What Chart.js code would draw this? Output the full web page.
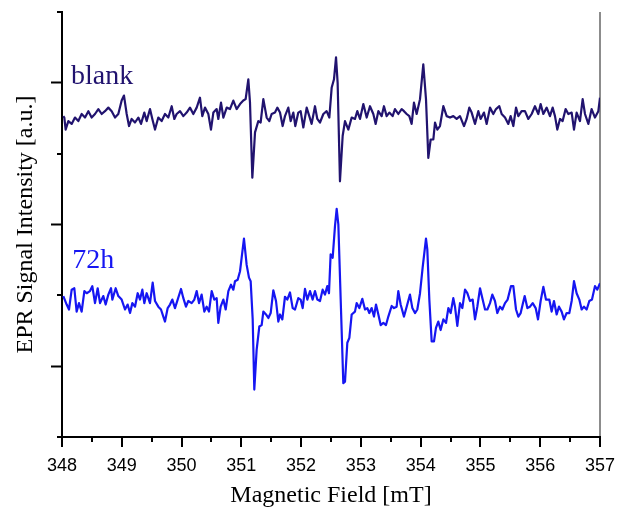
<!DOCTYPE html>
<html>
<head>
<meta charset="utf-8">
<script src="https://cdn.jsdelivr.net/npm/chart.js@4.4.1/dist/chart.umd.min.js"></script>
<style>
body { margin: 0; background: #fff; }
</style>
</head>
<body>
<canvas id="myChart" width="617" height="510"></canvas>
<script>

// field in mT, intensity in arbitrary units
const blankField = [
    348.022,348.039,348.061,348.106,348.162,348.217,348.273,348.329,348.385,348.441,348.496,
    348.552,348.608,348.664,348.719,348.775,348.831,348.887,348.942,348.998,349.037,
    349.082,349.121,349.165,349.221,349.277,349.322,349.377,349.416,349.472,349.511,
    349.556,349.611,349.667,349.723,349.779,349.835,349.879,349.918,349.974,350.030,
    350.085,350.141,350.197,350.253,350.308,350.347,350.392,350.448,350.492,350.532,
    350.587,350.615,350.660,350.699,350.755,350.810,350.866,350.922,350.978,351.033,
    351.072,351.117,351.145,351.184,
    351.229,351.284,351.323,351.368,351.424,351.468,351.507,351.563,351.602,351.647,
    351.691,351.730,351.786,351.825,351.870,351.903,351.953,351.992,352.037,352.093,
    352.137,352.176,352.232,352.271,352.316,352.372,352.427,352.472,352.511,352.550,
    352.584,352.611,352.650,352.695,352.734,352.790,352.846,352.901,352.940,352.985,
    353.041,353.097,353.152,353.208,353.247,353.292,353.347,353.386,353.431,353.476,
    353.531,353.570,353.626,353.682,353.721,353.766,353.810,353.849,353.888,353.933,
    353.989,354.044,354.089,354.128,
    354.167,354.212,354.240,354.279,354.323,354.379,354.435,354.491,354.546,354.602,
    354.658,354.725,354.769,354.814,354.853,354.909,354.964,355.003,355.059,355.104,
    355.160,355.215,355.260,355.316,355.355,355.411,355.466,355.505,355.550,355.595,
    355.634,355.689,355.745,355.801,355.857,355.912,355.968,356.007,356.052,356.108,
    356.163,356.208,356.247,356.286,356.331,356.375,356.425,356.470,356.526,356.565,
    356.609,356.665,356.710,356.749,356.805,356.860,356.916,356.972,357.000
];
const blankIntensity = [
    4.53,4.51,4.34,4.46,4.42,4.51,4.46,4.56,4.51,4.60,4.51,
    4.56,4.63,4.56,4.60,4.65,4.60,4.51,4.56,4.75,4.82,
    4.56,4.39,4.49,4.44,4.51,4.42,4.58,4.46,4.63,4.49,
    4.34,4.51,4.46,4.56,4.51,4.67,4.49,4.56,4.60,4.53,
    4.58,4.65,4.56,4.65,4.79,4.53,4.65,4.56,4.34,4.58,
    4.63,4.49,4.72,4.51,4.65,4.63,4.75,4.63,4.70,4.75,
    4.77,5.05,4.72,3.66,
    4.30,4.46,4.44,4.77,4.51,4.46,4.56,4.58,4.65,4.58,
    4.39,4.53,4.65,4.46,4.58,4.39,4.58,4.60,4.37,4.65,
    4.53,4.42,4.67,4.49,4.44,4.56,4.60,4.51,4.93,5.05,
    5.36,5.00,3.61,4.25,4.46,4.34,4.51,4.49,4.60,4.49,
    4.70,4.51,4.67,4.56,4.42,4.60,4.53,4.67,4.53,4.58,
    4.53,4.63,4.56,4.63,4.60,4.56,4.53,4.42,4.72,4.56,
    4.77,5.26,4.77,3.94,
    4.20,4.20,4.44,4.34,4.39,4.67,4.53,4.51,4.53,4.49,
    4.53,4.39,4.49,4.65,4.58,4.42,4.60,4.49,4.58,4.42,
    4.65,4.56,4.63,4.67,4.56,4.51,4.42,4.53,4.39,4.65,
    4.53,4.60,4.60,4.49,4.56,4.67,4.56,4.70,4.56,4.65,
    4.53,4.65,4.53,4.34,4.49,4.46,4.63,4.56,4.58,4.34,
    4.58,4.46,4.77,4.56,4.42,4.63,4.51,4.60,4.79
];

const h72Field = [
    348.022,348.078,348.117,348.162,348.206,348.245,348.284,348.329,348.374,348.413,
    348.468,348.507,348.552,348.597,348.636,348.691,348.730,348.775,348.820,348.842,
    348.898,348.942,348.998,349.054,349.098,349.138,349.177,349.221,349.266,349.305,
    349.344,349.377,349.416,349.472,349.517,349.556,349.611,349.656,349.695,349.723,
    349.768,349.807,349.846,349.890,349.935,349.991,350.030,350.074,350.113,350.169,
    350.214,350.253,350.292,350.336,350.381,350.420,350.459,350.504,350.548,350.587,
    350.615,350.654,350.699,350.738,350.783,350.827,350.866,350.894,350.939,350.978,
    351.005,351.044,351.089,351.128,
    351.156,351.190,351.217,351.256,351.301,351.340,351.368,351.413,351.452,351.491,
    351.535,351.580,351.619,351.647,351.686,351.730,351.769,351.814,351.859,351.898,
    351.953,351.992,352.026,352.065,352.104,352.149,352.193,352.232,352.271,352.316,
    352.360,352.399,352.438,352.466,352.494,352.528,352.567,352.595,352.623,352.662,
    352.706,352.734,352.773,352.807,352.846,352.901,352.929,352.974,353.024,353.069,
    353.108,353.141,353.180,353.219,353.253,353.292,353.331,353.376,353.420,353.459,
    353.515,353.554,353.598,353.626,353.665,353.721,353.766,353.821,353.861,353.905,
    353.944,353.989,354.033,354.089,
    354.111,354.145,354.184,354.223,354.256,354.295,354.334,354.379,354.424,354.463,
    354.502,354.546,354.574,354.613,354.658,354.697,354.742,354.781,354.825,354.870,
    354.909,354.948,354.993,355.037,355.077,355.116,355.160,355.199,355.243,355.282,
    355.327,355.366,355.411,355.455,355.511,355.550,355.595,355.634,355.673,355.706,
    355.740,355.785,355.829,355.874,355.924,355.963,356.007,356.052,356.096,356.152,
    356.191,356.230,356.275,356.314,356.358,356.397,356.442,356.487,356.526,356.565,
    356.609,356.654,356.693,356.732,356.777,356.821,356.866,356.916,356.955,357.000
];
const h72Intensity = [
    1.99,1.87,1.80,2.08,2.10,1.77,1.89,1.77,2.06,2.03,
    2.06,2.13,1.89,2.10,1.89,1.99,1.87,2.01,2.10,1.94,
    2.10,1.99,1.94,1.80,1.87,1.75,1.89,1.84,2.03,1.94,
    2.08,1.89,2.03,1.89,2.18,1.92,1.84,1.80,1.70,1.63,
    1.82,1.87,1.94,1.82,1.94,2.09,1.96,1.84,1.92,1.89,
    1.94,2.06,1.89,2.01,1.77,1.84,1.77,2.06,1.94,1.96,
    1.61,1.84,1.94,1.80,2.06,2.15,2.08,2.20,2.22,2.34,
    2.53,2.80,2.43,2.25,
    2.20,1.66,0.67,1.23,1.56,1.58,1.77,1.73,1.68,1.75,
    2.07,1.92,1.63,1.73,1.66,1.98,1.94,2.04,1.82,1.80,
    1.96,1.94,1.82,2.09,1.94,2.06,1.94,2.06,1.94,1.92,
    2.08,2.01,2.13,2.03,2.58,2.53,2.98,3.22,3.00,1.94,
    0.76,0.78,1.33,1.40,1.73,1.77,1.89,1.82,1.95,1.80,
    1.82,1.75,1.82,1.70,1.87,1.73,1.58,1.61,1.58,1.70,
    1.85,1.82,1.84,2.06,1.87,1.70,1.84,2.01,1.82,1.75,
    1.80,2.03,2.39,2.80,
    2.65,1.94,1.35,1.35,1.54,1.63,1.51,1.66,1.61,1.82,
    1.75,1.96,1.84,1.57,1.89,1.82,2.08,2.03,1.92,1.94,
    1.66,1.84,2.10,1.94,1.80,1.80,1.89,2.01,1.92,1.75,
    1.84,1.80,1.89,1.94,2.13,2.13,1.80,1.70,1.75,1.87,
    1.99,1.82,1.84,1.89,1.82,1.66,1.92,2.12,1.94,1.94,
    1.77,1.92,1.73,1.84,1.77,1.66,1.75,1.75,1.92,2.20,
    2.03,1.94,1.80,1.84,1.80,1.92,1.94,2.13,2.08,2.17
];

const seriesNames = ['blank', '72h'];
const seriesColors = ['#21136f', '#1616f2'];
const nameField = [348.15, 348.17];
const nameLevel = [4.98, 2.38];

const fieldMajorTicks = [348, 349, 350, 351, 352, 353, 354, 355, 356, 357];
const fieldMinorTicks = [348.5, 349.5, 350.5, 351.5, 352.5, 353.5, 354.5, 355.5, 356.5];
const levelMajorTicks = [1, 3, 5];
const levelMinorTicks = [0, 2, 4, 6];

function toPoints(xs, ys) {
    return xs.map((x, i) => ({ x: x, y: ys[i] }));
}

// short ticks between the labelled ones, plus the two curve names
const extrasPlugin = {
    id: 'extras',
    afterDraw(chart) {
        const c = chart.ctx;
        const xs = chart.scales.x;
        const ys = chart.scales.y;
        c.save();
        c.strokeStyle = '#000';
        c.lineWidth = 2;
        c.beginPath();
        fieldMinorTicks.forEach(v => {
            const px = Math.round(xs.getPixelForValue(v));
            c.moveTo(px, xs.top);
            c.lineTo(px, xs.top + 5);
        });
        levelMinorTicks.forEach(v => {
            const py = Math.round(ys.getPixelForValue(v));
            c.moveTo(ys.right, py);
            c.lineTo(ys.right - 5, py);
        });
        c.stroke();

        c.font = '28px "Liberation Serif"';
        c.textAlign = 'left';
        c.textBaseline = 'alphabetic';
        for (let i = 0; i < seriesNames.length; i++) {
            c.fillStyle = seriesColors[i];
            c.fillText(seriesNames[i], xs.getPixelForValue(nameField[i]), ys.getPixelForValue(nameLevel[i]));
        }
        c.restore();
    }
};

let chart;

const ctx = document.getElementById('myChart').getContext('2d');
chart = new Chart(ctx, {
    type: 'scatter',
    data: {
        datasets: [{
            label: seriesNames[0],
            data: toPoints(blankField, blankIntensity),
            showLine: true,
            borderColor: seriesColors[0],
            borderWidth: 2.2,
            borderJoinStyle: 'round',
            pointRadius: 0,
            tension: 0
        }, {
            label: seriesNames[1],
            data: toPoints(h72Field, h72Intensity),
            showLine: true,
            borderColor: seriesColors[1],
            borderWidth: 2.2,
            borderJoinStyle: 'round',
            pointRadius: 0,
            tension: 0
        }]
    },
    options: {
        responsive: false,
        animation: false,
        layout: { padding: { top: 12, right: 17, left: 0, bottom: 0 } },
        plugins: {
            legend: { display: false },
            tooltip: { enabled: false }
        },
        scales: {
            x: {
                type: 'linear',
                min: 348,
                max: 357,
                afterBuildTicks: scale => { scale.ticks = fieldMajorTicks.map(v => ({ value: v })); },
                afterFit: scale => {
                    scale.height = 73;
                    scale.paddingLeft = 0;
                    scale.paddingRight = 0;
                },
                ticks: {
                    color: '#000',
                    padding: 8,
                    font: { family: 'Liberation Sans', size: 18 },
                    callback: v => String(v)
                },
                grid: {
                    drawOnChartArea: true,
                    color: c => (c.tick && c.tick.value === 357) ? '#8c8c8c' : 'rgba(0,0,0,0)',
                    lineWidth: 2,
                    tickColor: '#000',
                    tickWidth: 2,
                    tickLength: 10
                },
                border: { display: true, color: '#000', width: 2 },
                title: {
                    display: true,
                    text: 'Magnetic Field [mT]',
                    color: '#000',
                    font: { family: 'Liberation Serif', size: 24 },
                    padding: { top: 0, bottom: 0 }
                }
            },
            y: {
                min: 0,
                max: 6,
                afterBuildTicks: scale => { scale.ticks = levelMajorTicks.map(v => ({ value: v })); },
                afterFit: scale => {
                    scale.width = 62;
                    scale.paddingTop = 0;
                    scale.paddingBottom = 0;
                },
                ticks: { display: false },
                grid: {
                    drawOnChartArea: false,
                    tickColor: '#000',
                    tickWidth: 2,
                    tickLength: 11
                },
                border: { display: true, color: '#000', width: 2 },
                title: {
                    display: true,
                    text: 'EPR Signal Intensity [a.u.]',
                    color: '#000',
                    font: { family: 'Liberation Serif', size: 24 },
                    padding: { top: 11, bottom: 0 }
                }
            }
        }
    },
    plugins: [extrasPlugin]
});
</script>
</body>
</html>
